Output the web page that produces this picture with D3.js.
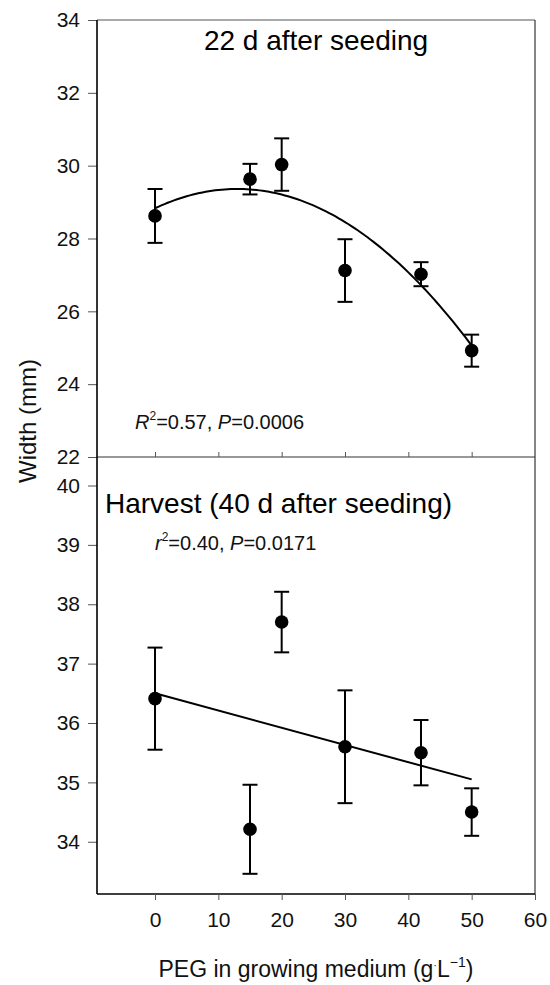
<!DOCTYPE html>
<html>
<head>
<meta charset="utf-8">
<script src="https://cdn.jsdelivr.net/npm/d3@7"></script>
<style>
  html, body { margin: 0; padding: 0; background: #fff; }
  svg { display: block; font-family: "Liberation Sans", Arial, sans-serif; }
</style>
</head>
<body>
<svg id="chart" width="550" height="985"></svg>
<script>
// PEG concentration levels (g/L)
const peg = [0, 15, 20, 30, 42, 50];

// Panel 1: width 22 d after seeding (mean and standard error, mm)
const width22 = [28.62, 29.63, 30.03, 27.12, 27.02, 24.92];
const err22 = [0.74, 0.42, 0.72, 0.86, 0.33, 0.44];
// quadratic fit: a + b*x + c*x^2
const fit22 = [28.83, 0.0816, -0.00314];

// Panel 2: width at harvest (40 d after seeding)
const widthHarvest = [36.41, 34.21, 37.70, 35.60, 35.50, 34.50];
const errHarvest = [0.86, 0.75, 0.51, 0.95, 0.55, 0.40];
// linear fit: a + b*x
const fitHarvest = [36.50, -0.029];

// Axis ticks
const xTicks = [0, 10, 20, 30, 40, 50, 60];
const yTicksTop = [22, 24, 26, 28, 30, 32, 34];
const yTicksBottom = [34, 35, 36, 37, 38, 39, 40];

const svg = d3.select("#chart");
const plotL = 97, plotR = 535, plotT = 20, plotMid = 457, plotB = 894;

const x = d3.scaleLinear().domain([-9.16, 60]).range([plotL, plotR]);
const yTop = d3.scaleLinear().domain([22, 34]).range([plotMid, plotT]);
const yBot = d3.scaleLinear().domain([33.12, 40.48]).range([plotB, plotMid]);

const frameColor = "#333";
const tickFont = 21;

// Frame lines (top, right)
svg.append("line").attr("x1", plotL).attr("x2", plotR).attr("y1", plotT).attr("y2", plotT)
  .attr("stroke", "#555").attr("stroke-width", 1.2);
svg.append("line").attr("x1", plotR).attr("x2", plotR).attr("y1", plotT).attr("y2", plotB)
  .attr("stroke", frameColor).attr("stroke-width", 1.2);

// Divider axis with inward ticks (top panel's x axis)
const divAxis = svg.append("g").attr("transform", `translate(0,${plotMid})`)
  .call(d3.axisTop(x).tickValues(xTicks.slice(0, 6)).tickSize(5).tickFormat(""));
divAxis.select(".domain").attr("d", `M${plotL},0H${plotR}`).attr("stroke", frameColor).attr("stroke-width", 1.2);
divAxis.selectAll(".tick line").attr("stroke", "#555").attr("stroke-width", 1);

// Bottom x axis
const xAxis = svg.append("g").attr("transform", `translate(0,${plotB})`)
  .call(d3.axisBottom(x).tickValues(xTicks).tickSize(6).tickPadding(12));
xAxis.select(".domain").attr("d", `M${plotL},0H${plotR}`).attr("stroke", "#000").attr("stroke-width", 1.3);
xAxis.selectAll(".tick line").attr("stroke", "#555");
xAxis.selectAll("text").attr("font-size", tickFont).attr("fill", "#111")
  .attr("font-family", "'Liberation Sans', Arial, sans-serif");

// Left y axes
function yAxis(scale, ticks) {
  const g = svg.append("g").attr("transform", `translate(${plotL},0)`)
    .call(d3.axisLeft(scale).tickValues(ticks).tickSize(9).tickPadding(8));
  g.select(".domain").remove();
  g.selectAll(".tick line").attr("stroke", "#555");
  g.selectAll("text").attr("font-size", tickFont).attr("fill", "#111")
    .attr("font-family", "'Liberation Sans', Arial, sans-serif");
  return g;
}
yAxis(yTop, yTicksTop);
yAxis(yBot, yTicksBottom);
svg.append("line").attr("x1", plotL).attr("x2", plotL).attr("y1", plotT).attr("y2", plotB)
  .attr("stroke", "#000").attr("stroke-width", 1.6);

// Fitted curves
const curveX = d3.range(0, 50.01, 0.5);
const line = (ys) => d3.line().x(d => x(d)).y(ys);
svg.append("path").datum(curveX)
  .attr("d", line(d => yTop(fit22[0] + fit22[1] * d + fit22[2] * d * d)))
  .attr("fill", "none").attr("stroke", "#000").attr("stroke-width", 2);
svg.append("path").datum([0, 50])
  .attr("d", line(d => yBot(fitHarvest[0] + fitHarvest[1] * d)))
  .attr("fill", "none").attr("stroke", "#000").attr("stroke-width", 2);

// Error bars and points
function points(values, errs, scale) {
  const data = peg.map((p, i) => ({ p, v: values[i], e: errs[i] }));
  const g = svg.append("g");
  const cap = 7.5;
  const eb = g.selectAll(".eb").data(data).join("g").attr("stroke", "#000").attr("stroke-width", 2);
  eb.append("line").attr("x1", d => x(d.p)).attr("x2", d => x(d.p))
    .attr("y1", d => scale(d.v + d.e)).attr("y2", d => scale(d.v - d.e));
  eb.append("line").attr("x1", d => x(d.p) - cap).attr("x2", d => x(d.p) + cap)
    .attr("y1", d => scale(d.v + d.e)).attr("y2", d => scale(d.v + d.e));
  eb.append("line").attr("x1", d => x(d.p) - cap).attr("x2", d => x(d.p) + cap)
    .attr("y1", d => scale(d.v - d.e)).attr("y2", d => scale(d.v - d.e));
  g.selectAll("circle").data(data).join("circle")
    .attr("cx", d => x(d.p)).attr("cy", d => scale(d.v)).attr("r", 6.8).attr("fill", "#000");
}
points(width22, err22, yTop);
points(widthHarvest, errHarvest, yBot);

// Panel titles
svg.append("text").attr("x", 316).attr("y", 50).attr("text-anchor", "middle")
  .attr("font-size", 28).attr("fill", "#000").text("22 d after seeding");
svg.append("text").attr("x", 105).attr("y", 513).attr("text-anchor", "start")
  .attr("font-size", 28).attr("fill", "#000").text("Harvest (40 d after seeding)");

// Fit statistics
function stat(xp, yp, letter, r2, p) {
  const t = svg.append("text").attr("x", xp).attr("y", yp).attr("font-size", 20).attr("fill", "#111");
  t.append("tspan").attr("font-style", "italic").text(letter);
  t.append("tspan").attr("font-size", 12).attr("dy", -9).text("2");
  t.append("tspan").attr("dy", 9).text("=" + r2 + ", ");
  t.append("tspan").attr("font-style", "italic").text("P");
  t.append("tspan").text("=" + p);
}
stat(135, 429, "R", "0.57", "0.0006");
stat(155, 550, "r", "0.40", "0.0171");

// Axis titles
svg.append("text").attr("transform", "translate(36,421) rotate(-90)")
  .attr("text-anchor", "middle").attr("font-size", 24).attr("fill", "#111").text("Width (mm)");
const xl = svg.append("text").attr("x", 316).attr("y", 977).attr("text-anchor", "middle")
  .attr("font-size", 23).attr("fill", "#111");
xl.append("tspan").text("PEG in growing medium (g");
xl.append("tspan").attr("font-size", 11).attr("dy", -8).text("·");
xl.append("tspan").attr("dy", 8).text("L");
xl.append("tspan").attr("font-size", 14).attr("dy", -10).text("−1");
xl.append("tspan").attr("dy", 10).text(")");
</script>
</body>
</html>
